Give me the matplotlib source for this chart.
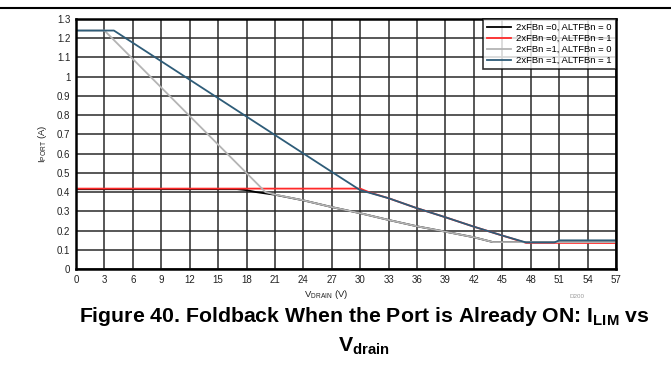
import matplotlib
matplotlib.use("Agg")
import matplotlib.pyplot as plt
from matplotlib.lines import Line2D

plt.rcParams['font.family'] = ['Liberation Sans', 'DejaVu Sans']
plt.rcParams['mathtext.fontset'] = 'custom'
plt.rcParams['mathtext.rm'] = 'Liberation Sans'
plt.rcParams['mathtext.bf'] = 'Liberation Sans:bold'
plt.rcParams['mathtext.it'] = 'Liberation Sans:italic'

# ---- data ----
series_labels = ["2xFBn =0, ALTFBn = 0", "2xFBn =0, ALTFBn = 1",
                 "2xFBn =1, ALTFBn = 0", "2xFBn =1, ALTFBn = 1"]

black_v = [0, 17, 18, 19, 20, 21, 24, 27, 30, 33, 36, 39, 42, 44, 57]
black_i = [0.415, 0.415, 0.41, 0.40, 0.393, 0.386, 0.357, 0.322, 0.29, 0.255, 0.222, 0.194, 0.165, 0.14, 0.14]

red_v = [0, 30, 31, 33, 36, 39, 42, 45, 47.5, 57]
red_i = [0.418, 0.418, 0.398, 0.368, 0.316, 0.269, 0.22, 0.174, 0.136, 0.135]

gray_v = [0, 3, 20, 21, 24, 27, 30, 33, 36, 39, 42, 44, 57]
gray_i = [1.24, 1.24, 0.40, 0.387, 0.357, 0.322, 0.29, 0.255, 0.222, 0.194, 0.165, 0.14, 0.14]

blue_v = [0, 4, 27, 30, 33, 36, 39, 42, 45, 47.5, 50.5, 51, 57]
blue_i = [1.24, 1.24, 0.505, 0.41, 0.368, 0.316, 0.269, 0.22, 0.174, 0.138, 0.138, 0.149, 0.149]

x_ticks = list(range(0, 58, 3))
y_ticks = [0, 0.1, 0.2, 0.3, 0.4, 0.5, 0.6, 0.7, 0.8, 0.9, 1, 1.1, 1.2, 1.3]
y_ticklabels = ["0", "0.1", "0.2", "0.3", "0.4", "0.5", "0.6", "0.7", "0.8", "0.9", "1", "1.1", "1.2", "1.3"]

colors = ["#000000", "#ff2a2a", "#b4b4b4", "#2e5c78"]

fig = plt.figure(figsize=(6.71, 3.71), dpi=100)
ax = fig.add_axes([76/671, 1-269/371, 540/671, 250/371])

for v, i, c, lab in zip([black_v, red_v, gray_v, blue_v],
                        [black_i, red_i, gray_i, blue_i], colors, series_labels):
    ax.plot(v, i, color=c, lw=1.3, label=lab, zorder=3)

ax.set_xlim(0, 57)
ax.set_ylim(0, 1.3)
ax.set_xticks(x_ticks)
ax.set_xticklabels([str(t) for t in x_ticks])
ax.set_yticks(y_ticks)
ax.set_yticklabels(y_ticklabels)
ax.tick_params(length=0, labelsize=7, pad=4, colors='#222222')
ax.grid(True, color='#2a2a2a', lw=1.1, zorder=1)
for s in ax.spines.values():
    s.set_linewidth(1.8)
    s.set_color('black')
    s.set_zorder(4)

ax.set_xlabel(r"V$_{\mathrm{DRAIN}}$ (V)", fontsize=6.8, labelpad=2, color='#222222')
ax.xaxis.set_label_coords(0.463, -0.075)
ax.set_ylabel(r"I$_{\mathrm{PORT}}$ (A)", fontsize=6.8, labelpad=6, color='#222222')

leg = ax.legend(loc='upper right', fontsize=6.8, frameon=True, fancybox=False,
                edgecolor='black', borderpad=0.45, handlelength=2.5,
                labelspacing=0.2, borderaxespad=0, handletextpad=0.6)
leg.get_frame().set_linewidth(1.2)
leg.set_zorder(5)

fig.text(577/671, 1-296/371, "D200", fontsize=4.5, color='#999999', ha='center', va='center')

fig.add_artist(Line2D([0, 1], [1-7.5/371, 1-7.5/371], color='black', lw=1.5))

fig.text(364/671, 1-317/371, r"Figure 40. Foldback When the Port is Already ON: I$_{\mathbf{LIM}}$ vs",
         fontsize=15.3, fontweight='bold', ha='center', va='center')
fig.text(364/671, 1-346/371, r"V$_{\mathbf{drain}}$",
         fontsize=15.3, fontweight='bold', ha='center', va='center')

fig.savefig("out.png", dpi=100)
